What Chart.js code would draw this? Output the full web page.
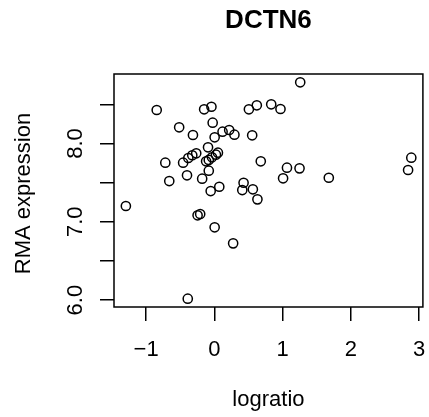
<!DOCTYPE html>
<html>
<head>
<meta charset="utf-8">
<script src="https://cdn.jsdelivr.net/npm/chart.js@4/dist/chart.umd.min.js"></script>
<style>
  html, body { margin: 0; padding: 0; background: #fff; }
  #wrap { width: 429px; height: 417px; }
</style>
</head>
<body>
<div id="wrap"><canvas id="plot" width="429" height="417"></canvas></div>
<script>
const logratio = [
  -0.845, -0.150, -0.043, 0.506, 0.622, 0.833, 0.969, 1.258, -0.025, -0.516,
  -0.314, 0.004, 0.120, 0.217, 0.294, 0.554, -0.093, 0.052, 0.023, -0.035,
  -0.082, -0.121, -0.266, -0.324, -0.382, -0.458, -0.719, 0.680, -0.082, -0.401,
  -0.661, -0.179, 0.072, -0.054, 0.428, 0.409, 0.564, 0.631, -1.297, 1.064,
  1.248, 1.007, 1.677, 2.886, 2.839, -0.246, -0.208, 0.004, 0.275, -0.390
];
const rma = [
  8.428, 8.437, 8.470, 8.437, 8.488, 8.501, 8.441, 8.782, 8.266, 8.207,
  8.109, 8.079, 8.151, 8.173, 8.113, 8.105, 7.952, 7.883, 7.857, 7.824,
  7.790, 7.773, 7.875, 7.850, 7.815, 7.755, 7.755, 7.773, 7.653, 7.594,
  7.521, 7.551, 7.448, 7.393, 7.499, 7.406, 7.415, 7.287, 7.202, 7.691,
  7.683, 7.556, 7.563, 7.819, 7.662, 7.083, 7.100, 6.930, 6.725, 6.018
];
const xTicks = [-1, 0, 1, 2, 3];
const xLabels = ['\u22121', '0', '1', '2', '3'];
const yTicks = [6.0, 6.5, 7.0, 7.5, 8.0, 8.5];
const yLabels = ['6.0', '', '7.0', '', '8.0', ''];
const xRange = [-1.471, 3.056];
const yRange = [5.912, 8.888];

const FONT = '"Liberation Sans", Arial, Helvetica, sans-serif';

// R-style box, title and text labels
const rDecor = {
  id: 'rDecor',
  afterDraw(chart) {
    const { ctx, chartArea: a, scales: { x, y } } = chart;
    const midX = (a.left + a.right) / 2;
    ctx.save();
    ctx.strokeStyle = '#000';
    ctx.lineWidth = 1.5;
    ctx.strokeRect(a.left, a.top, a.right - a.left, a.bottom - a.top);

    ctx.fillStyle = '#000';
    ctx.textAlign = 'center';
    ctx.textBaseline = 'middle';

    ctx.font = 'bold 26px ' + FONT;
    ctx.fillText('DCTN6', midX, 21);

    ctx.font = '22px ' + FONT;
    xTicks.forEach((v, i) => ctx.fillText(xLabels[i], x.getPixelForValue(v), 350));
    ctx.fillText('logratio', midX, 400);

    yTicks.forEach((v, i) => {
      if (!yLabels[i]) return;
      ctx.save();
      ctx.translate(76, y.getPixelForValue(v));
      ctx.rotate(-Math.PI / 2);
      ctx.fillText(yLabels[i], 0, 0);
      ctx.restore();
    });

    ctx.save();
    ctx.translate(24, (a.top + a.bottom) / 2 + 3);
    ctx.rotate(-Math.PI / 2);
    ctx.fillText('RMA expression', 0, 0);
    ctx.restore();
    ctx.restore();
  }
};

const points = logratio.map((v, i) => ({ x: v, y: rma[i] }));

new Chart(document.getElementById('plot'), {
  type: 'scatter',
  data: {
    datasets: [{
      data: points,
      pointStyle: 'circle',
      pointRadius: 4.6,
      pointBorderWidth: 1.5,
      pointBorderColor: '#000',
      pointBackgroundColor: 'rgba(0,0,0,0)'
    }]
  },
  options: {
    responsive: false,
    animation: false,
    devicePixelRatio: 1,
    layout: { padding: { top: 74, right: 2, left: 0, bottom: 0 } },
    plugins: { legend: { display: false }, tooltip: { enabled: false } },
    scales: {
      x: {
        type: 'linear',
        min: xRange[0],
        max: xRange[1],
        afterBuildTicks: s => { s.ticks = xTicks.map(v => ({ value: v })); },
        afterFit: s => { s.height = 110; },
        ticks: { display: false },
        border: { display: false },
        grid: { drawOnChartArea: false, drawTicks: true, tickLength: 14, color: '#000', lineWidth: 1.5 }
      },
      y: {
        type: 'linear',
        min: yRange[0],
        max: yRange[1],
        afterBuildTicks: s => { s.ticks = yTicks.map(v => ({ value: v })); },
        afterFit: s => { s.width = 114; },
        ticks: { display: false },
        border: { display: false },
        grid: { drawOnChartArea: false, drawTicks: true, tickLength: 14, color: '#000', lineWidth: 1.5 }
      }
    }
  },
  plugins: [rDecor]
});
</script>
</body>
</html>
